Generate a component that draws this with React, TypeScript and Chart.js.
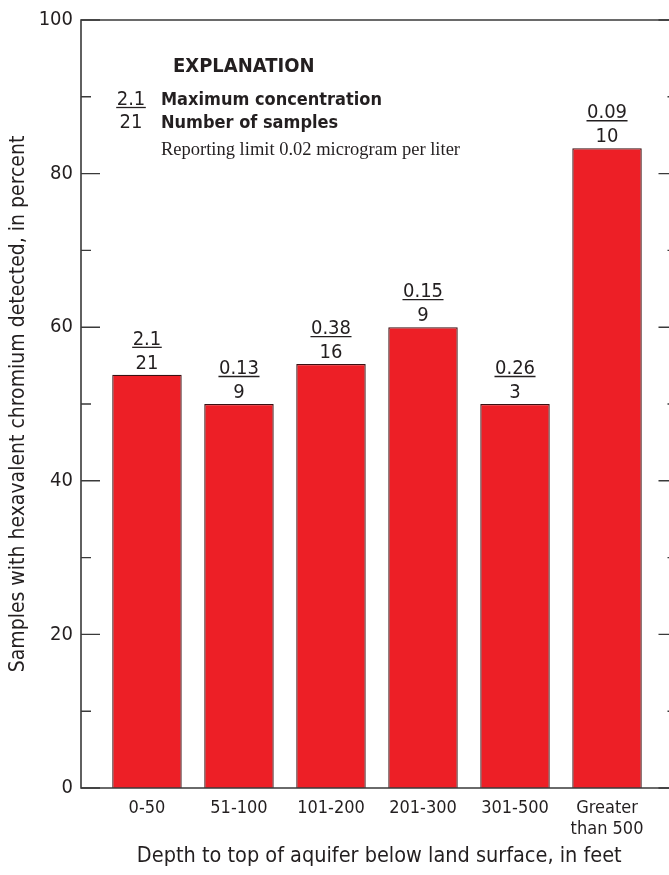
import React, { useEffect, useRef } from 'react';
import { Chart, registerables } from 'chart.js';

Chart.register(...registerables);

// Depth classes and the share of wells with hexavalent chromium detected
const depthRanges = ['0-50', '51-100', '101-200', '201-300', '301-500', 'Greater than 500'];
const percentDetected = [53.8, 50, 55.2, 60, 50, 83.3];
// Maximum concentration (micrograms per liter) and number of samples per class
const maxConcentration = ['2.1', '0.13', '0.38', '0.15', '0.26', '0.09'];
const sampleCounts = ['21', '9', '16', '9', '3', '10'];
// Y axis ticks (labelled majors, unlabelled minors)
const yMajorTicks = [0, 20, 40, 60, 80, 100];
const yMinorTicks = [10, 30, 50, 70, 90];

const SANS = "'Liberation Sans Narrow', 'DejaVu Sans Condensed', 'Arial Narrow', sans-serif";
const SERIF = "'Liberation Serif', 'Times New Roman', serif";
const INK = '#231f20';
const AXIS = '#3a3a3a';

const splitLabel = (s: string) => (s.startsWith('Greater') ? ['Greater', 'than 500'] : s);

// Frame, inward tick marks on both sides
const framePlugin = {
  id: 'frame',
  afterDraw(chart: any) {
    const { ctx, chartArea: a, scales } = chart;
    const y = scales.y;
    ctx.save();
    ctx.strokeStyle = AXIS;
    ctx.lineWidth = 1.6;
    ctx.beginPath();
    ctx.moveTo(a.left, a.top);
    ctx.lineTo(a.right, a.top);
    ctx.lineTo(a.right, a.bottom);
    ctx.lineTo(a.left, a.bottom);
    ctx.closePath();
    ctx.stroke();
    const tick = (v: number, len: number) => {
      const py = y.getPixelForValue(v);
      ctx.beginPath();
      ctx.moveTo(a.left, py);
      ctx.lineTo(a.left + len, py);
      ctx.moveTo(a.right, py);
      ctx.lineTo(a.right - len, py);
      ctx.stroke();
    };
    ctx.lineWidth = 1.4;
    yMajorTicks.forEach((v) => tick(v, 19));
    yMinorTicks.forEach((v) => tick(v, 10));
    ctx.restore();
  },
};

function fraction(ctx: CanvasRenderingContext2D, top: string, bottom: string, cx: number, baseTop: number, gap: number) {
  ctx.textAlign = 'center';
  ctx.textBaseline = 'alphabetic';
  ctx.fillText(top, cx, baseTop);
  const w = ctx.measureText(top).width;
  ctx.beginPath();
  ctx.moveTo(cx - w / 2 - 0.5, baseTop + 2.5);
  ctx.lineTo(cx + w / 2 + 0.5, baseTop + 2.5);
  ctx.stroke();
  ctx.fillText(bottom, cx, baseTop + gap);
}

// Concentration / sample-count labels above each bar
const barLabelPlugin = {
  id: 'barLabels',
  afterDatasetsDraw(chart: any) {
    const { ctx } = chart;
    const meta = chart.getDatasetMeta(0);
    ctx.save();
    ctx.fillStyle = INK;
    ctx.strokeStyle = INK;
    ctx.lineWidth = 1.3;
    ctx.font = `20px ${SANS}`;
    meta.data.forEach((bar: any, i: number) => {
      fraction(ctx, maxConcentration[i], sampleCounts[i], bar.x, bar.y - 30, 24);
    });
    ctx.restore();
  },
};

// Explanation block in the upper left of the plot
const explanationPlugin = {
  id: 'explanation',
  afterDraw(chart: any) {
    const { ctx, chartArea: a } = chart;
    const x0 = a.left;
    const y0 = a.top;
    ctx.save();
    ctx.fillStyle = INK;
    ctx.strokeStyle = INK;
    ctx.lineWidth = 1.3;
    ctx.textBaseline = 'alphabetic';
    ctx.textAlign = 'left';
    ctx.font = `bold 20px ${SANS}`;
    ctx.fillText('EXPLANATION', x0 + 92, y0 + 52);
    ctx.font = `20px ${SANS}`;
    fraction(ctx, '2.1', '21', x0 + 50, y0 + 85, 23);
    ctx.textAlign = 'left';
    ctx.font = `bold 18px ${SANS}`;
    ctx.fillText('Maximum concentration', x0 + 80, y0 + 85);
    ctx.fillText('Number of samples', x0 + 80, y0 + 108);
    ctx.font = `18.5px ${SERIF}`;
    ctx.fillText('Reporting limit 0.02 microgram per liter', x0 + 80, y0 + 135);
    ctx.restore();
  },
};

export default function App() {
  const canvasRef = useRef<HTMLCanvasElement | null>(null);

  useEffect(() => {
    if (!canvasRef.current) return;
    const chart = new Chart(canvasRef.current, {
      type: 'bar',
      data: {
        datasets: [
          {
            data: percentDetected.map((v, i) => ({ x: i, y: v })),
            backgroundColor: '#ed1f26',
            borderColor: '#3a1012',
            borderWidth: 1.3,
            categoryPercentage: 1,
            barPercentage: 0.755,
          },
        ],
      },
      options: {
        animation: false,
        responsive: false,
        devicePixelRatio: 1,
        layout: { padding: { top: 19, right: 22.5, bottom: 0, left: 0 } },
        plugins: { legend: { display: false }, tooltip: { enabled: false } },
        scales: {
          x: {
            type: 'linear',
            min: -0.717,
            max: 5.766,
            offset: false,
            grid: { display: false, drawTicks: false, offset: false },
            border: { display: false },
            afterBuildTicks: (scale: any) => {
              scale.ticks = depthRanges.map((_, i) => ({ value: i }));
            },
            afterFit: (scale: any) => {
              scale.height = 87;
            },
            ticks: {
              autoSkip: false,
              maxRotation: 0,
              padding: 10,
              color: INK,
              font: { family: SANS, size: 18, lineHeight: 1.15 },
              callback: (v: any) => splitLabel(depthRanges[Math.round(Number(v))] ?? ''),
            },
            title: {
              display: true,
              text: 'Depth to top of aquifer below land surface, in feet',
              color: INK,
              font: { family: SANS, size: 21.5 },
              padding: { top: 0, bottom: 6 },
            },
          },
          y: {
            min: 0,
            max: 100,
            grid: { display: false, drawTicks: false },
            border: { display: false },
            afterFit: (scale: any) => {
              scale.width = 81;
            },
            ticks: {
              stepSize: 20,
              padding: 8,
              color: INK,
              font: { family: SANS, size: 20 },
            },
            title: {
              display: true,
              text: 'Samples with hexavalent chromium detected, in percent',
              color: INK,
              font: { family: SANS, size: 21 },
              padding: { top: 6, bottom: 0 },
            },
          },
        },
      },
      plugins: [framePlugin, barLabelPlugin, explanationPlugin],
    });
    return () => chart.destroy();
  }, []);

  return (
    <div
      style={{
        position: 'fixed',
        left: 0,
        top: 0,
        width: 669,
        height: 875,
        overflow: 'hidden',
        background: '#fff',
      }}
    >
      <canvas ref={canvasRef} width={700} height={875} style={{ width: 700, height: 875, display: 'block' }} />
    </div>
  );
}
